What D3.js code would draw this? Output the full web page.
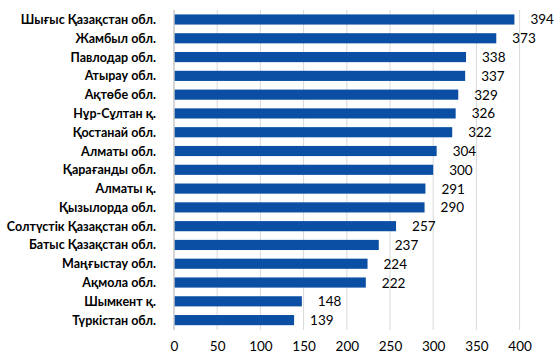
<!DOCTYPE html>
<html><head><meta charset="utf-8">
<script src="https://cdn.jsdelivr.net/npm/d3@7"></script>
<style>body{margin:0;background:#fff}</style>
</head><body>
<svg id="c" width="555" height="353"></svg>
<script>
const categories = ["Шығыс Қазақстан обл.","Жамбыл обл.","Павлодар обл.","Атырау обл.","Ақтөбе обл.","Нұр-Сұлтан қ.","Қостанай обл.","Алматы обл.","Қарағанды обл.","Алматы қ.","Қызылорда обл.","Солтүстік Қазақстан обл.","Батыс Қазақстан обл.","Маңғыстау обл.","Ақмола обл.","Шымкент қ.","Түркістан обл."];
const values = [394,373,338,337,329,326,322,304,300,291,290,257,237,224,222,148,139];
const ticks = [0,50,100,150,200,250,300,350,400];

const svg = d3.select("#c");
const x = d3.scaleLinear().domain([0,400]).range([174,519.6]);
const y = d3.scaleBand().domain(categories).range([10.1,329.5]).paddingInner(0.46).paddingOuter(0.23);
const font = "Lato, sans-serif";

svg.append("g").selectAll("line").data(ticks.slice(1)).join("line")
  .attr("x1",d=>x(d)).attr("x2",d=>x(d)).attr("y1",10).attr("y2",330)
  .attr("stroke","#d9d9d9").attr("stroke-width",1);

svg.append("g").selectAll("rect").data(values).join("rect")
  .attr("x",x(0)).attr("y",(d,i)=>y(categories[i]))
  .attr("width",d=>x(d)-x(0)).attr("height",y.bandwidth())
  .attr("fill","#0a4fa3");

svg.append("line").attr("x1",x(0)).attr("x2",x(0)).attr("y1",10).attr("y2",330)
  .attr("stroke","#c8c8c8").attr("stroke-width",1.5);

svg.append("g").selectAll("text").data(values).join("text")
  .attr("x",d=>x(d)+16).attr("y",(d,i)=>y(categories[i])+y.bandwidth()/2+5)
  .attr("font-family",font).attr("font-size",13.5).attr("fill","#000")
  .text(d=>d);

const labels = svg.append("g").selectAll("text").data(categories).join("text")
  .attr("x",156).attr("y",d=>y(d)+y.bandwidth()/2+4.5)
  .attr("text-anchor","end").attr("font-family",font).attr("font-size",12.5)
  .attr("font-weight","bold").attr("fill","#000").text(d=>d);

const ax = svg.append("g").attr("transform","translate(0,330)")
  .call(d3.axisBottom(x).tickValues(ticks).tickSize(0).tickPadding(11));
ax.select(".domain").remove();
ax.selectAll("text").attr("font-family",font).attr("font-size",13.5).attr("fill","#000");
</script>
</body></html>
